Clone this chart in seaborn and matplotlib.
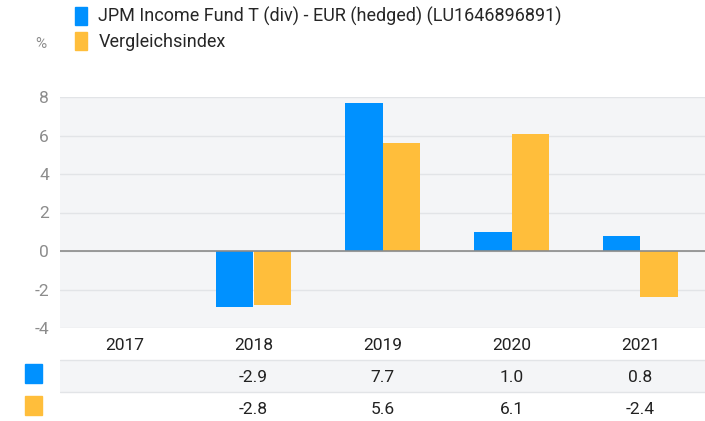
import pandas as pd
import matplotlib.pyplot as plt
import seaborn as sns
import numpy as np
from matplotlib.patches import Patch, Rectangle

years = ['2017', '2018', '2019', '2020', '2021']
fund = [np.nan, -2.9, 7.7, 1.0, 0.8]
index = [np.nan, -2.8, 5.6, 6.1, -2.4]
fund_name = 'JPM Income Fund T (div) - EUR (hedged) (LU1646896891)'
index_name = 'Vergleichsindex'

blue = '#0091ff'
orange = '#ffbe3b'
bg = '#f4f5f7'
grid = '#e2e4e7'

sns.set_theme(style='white')
plt.rcParams['font.family'] = ['Roboto', 'DejaVu Sans']
plt.rcParams['axes.unicode_minus'] = False

df = pd.DataFrame({'year': years * 2,
                   'value': fund + index,
                   'series': [fund_name] * 5 + [index_name] * 5})

W, H = 705, 421
fig = plt.figure(figsize=(W / 100, H / 100), dpi=100)
ax = fig.add_axes([60 / W, (H - 328) / H, 645 / W, 231 / H])
ax.set_facecolor(bg)
sns.barplot(data=df, x='year', y='value', hue='series', order=years,
            palette=[blue, orange], width=0.58, saturation=1, legend=False,
            linewidth=0, ax=ax)
ax.set_xlim(-0.5, 4.5)
ax.set_ylim(-4, 8)
ax.set_yticks(range(-4, 9, 2))
ax.yaxis.grid(True, color=grid, lw=1)
ax.set_axisbelow(True)
ax.axhline(0, color='#8a8a8a', lw=1.2)
for s in ax.spines.values():
    s.set_visible(False)
ax.tick_params(axis='y', length=0, pad=8, labelsize=12.5, labelcolor='#8c8c8c')
ax.set_xticks([])
ax.set_xlabel('')
ax.set_ylabel('')

# table below the chart
tab = fig.add_axes([60 / W, 0, 645 / W, (H - 328) / H])
tab.set_xlim(-0.5, 4.5)
tab.set_ylim(93, 0)
tab.axis('off')
tab.axhspan(32, 64, color=bg, lw=0)
tab.axhline(32, color=grid, lw=1)
tab.axhline(64, color=grid, lw=1)
for i, y in enumerate(years):
    tab.text(i, 17, y, ha='center', va='center', fontsize=12.5, color='#222222')
    for row, vals in ((49, fund), (81, index)):
        if not np.isnan(vals[i]):
            tab.text(i, row, f'{vals[i]:.1f}', ha='center', va='center',
                     fontsize=12.5, color='#222222')
fig.patches.append(Rectangle((25 / W, (H - 383) / H), 17 / W, 19 / H,
                             transform=fig.transFigure, color=blue))
fig.patches.append(Rectangle((25 / W, (H - 415) / H), 17 / W, 19 / H,
                             transform=fig.transFigure, color=orange))

# legend
handles = [Patch(color=blue, label=fund_name), Patch(color=orange, label=index_name)]
fig.legend(handles=handles, loc='upper left', bbox_to_anchor=(64 / W, 1.0 + 4 / H),
           frameon=False, fontsize=13, handlelength=0.7, handleheight=1.2,
           handletextpad=0.6, labelspacing=0.3, borderaxespad=0.2)
fig.text(41 / W, (H - 44) / H, '%', ha='center', va='center', fontsize=11, color='#8c8c8c')

fig.savefig('out.png', dpi=100)
